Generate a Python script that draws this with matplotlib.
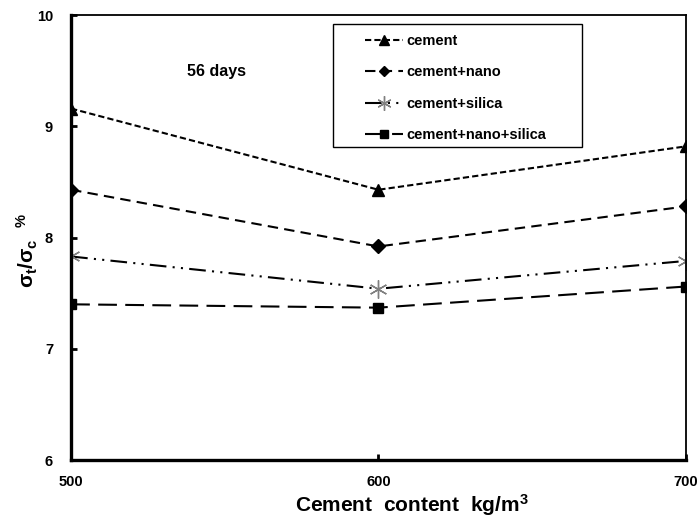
import numpy as np
from matplotlib import pyplot as plt
from matplotlib.patches import Rectangle

plt.rcParams['font.family'] = ['Liberation Sans', 'DejaVu Sans']
plt.rcParams['mathtext.fontset'] = 'custom'
plt.rcParams['mathtext.rm'] = 'Liberation Sans:bold'
plt.rcParams['mathtext.it'] = 'Liberation Sans:bold'
plt.rcParams['mathtext.bf'] = 'Liberation Sans:bold'

# cement content (kg/m3) and tensile/compressive strength ratio at 56 days
cement_content = [500, 600, 700]
cement = [9.16, 8.43, 8.82]
cement_nano = [8.43, 7.92, 8.28]
cement_silica = [7.83, 7.54, 7.79]
cement_nano_silica = [7.40, 7.37, 7.56]

series_names = ['cement', 'cement+nano', 'cement+silica', 'cement+nano+silica']

fig = plt.figure(figsize=(6.97, 5.21), dpi=100)
ax = fig.add_axes([0.102, 0.117, 0.882, 0.854])

ax.plot(cement_content, cement, color='black', lw=1.5, ls=(0, (3, 1.5)),
        marker='^', ms=9, label=series_names[0])
ax.plot(cement_content, cement_nano, color='black', lw=1.5, ls=(0, (5, 3)),
        marker='D', ms=7, label=series_names[1])
ax.plot(cement_content, cement_silica, color='black', lw=1.5,
        ls=(0, (8, 3, 1, 3, 1, 3)), marker=(6, 2, 0), ms=13, mec='gray',
        mew=1.0, label=series_names[2])
ax.plot(cement_content, cement_nano_silica, color='black', lw=1.5,
        ls=(0, (9, 4)), marker='s', ms=7, label=series_names[3])

ax.set_xlim(500, 700)
ax.set_ylim(6, 10)
ax.set_xticks([500, 600, 700])
ax.set_yticks([6, 7, 8, 9, 10])
ax.tick_params(direction='in', length=4, width=2, labelsize=10.5)
ax.tick_params(axis='x', pad=11)
ax.tick_params(axis='y', pad=13)
for lab in ax.get_xticklabels() + ax.get_yticklabels():
    lab.set_fontweight('bold')

ax.spines['left'].set_linewidth(2.4)
ax.spines['bottom'].set_linewidth(2.4)
ax.spines['top'].set_linewidth(1.3)
ax.spines['right'].set_linewidth(1.3)

ax.set_xlabel('Cement  content  kg/m$^3$', fontsize=15, fontweight='bold', labelpad=2)
ax.xaxis.label.set_x(0.555)
ax.set_ylabel('$σ_t/σ_c$  $^{\\%}$', fontsize=15, labelpad=-2)
ax.yaxis.label.set_y(0.47)

ax.text(0.237, 0.873, '56 days', transform=ax.transAxes, ha='center',
        va='center', fontsize=11.5, fontweight='bold')

# legend box drawn separately, entries placed inside with wide side margins
ax.add_patch(Rectangle((0.426, 0.703), 0.405, 0.277, transform=ax.transAxes,
                       fill=False, edgecolor='black', lw=1.0, zorder=5))
leg = ax.legend(loc='upper left', bbox_to_anchor=(0.478, 0.958), frameon=False,
                handlelength=2.6, labelspacing=1.2, borderpad=0,
                handletextpad=0.25, markerscale=0.8,
                prop={'weight': 'bold', 'size': 10.5}, borderaxespad=0)

fig.savefig('out.png', dpi=100)
